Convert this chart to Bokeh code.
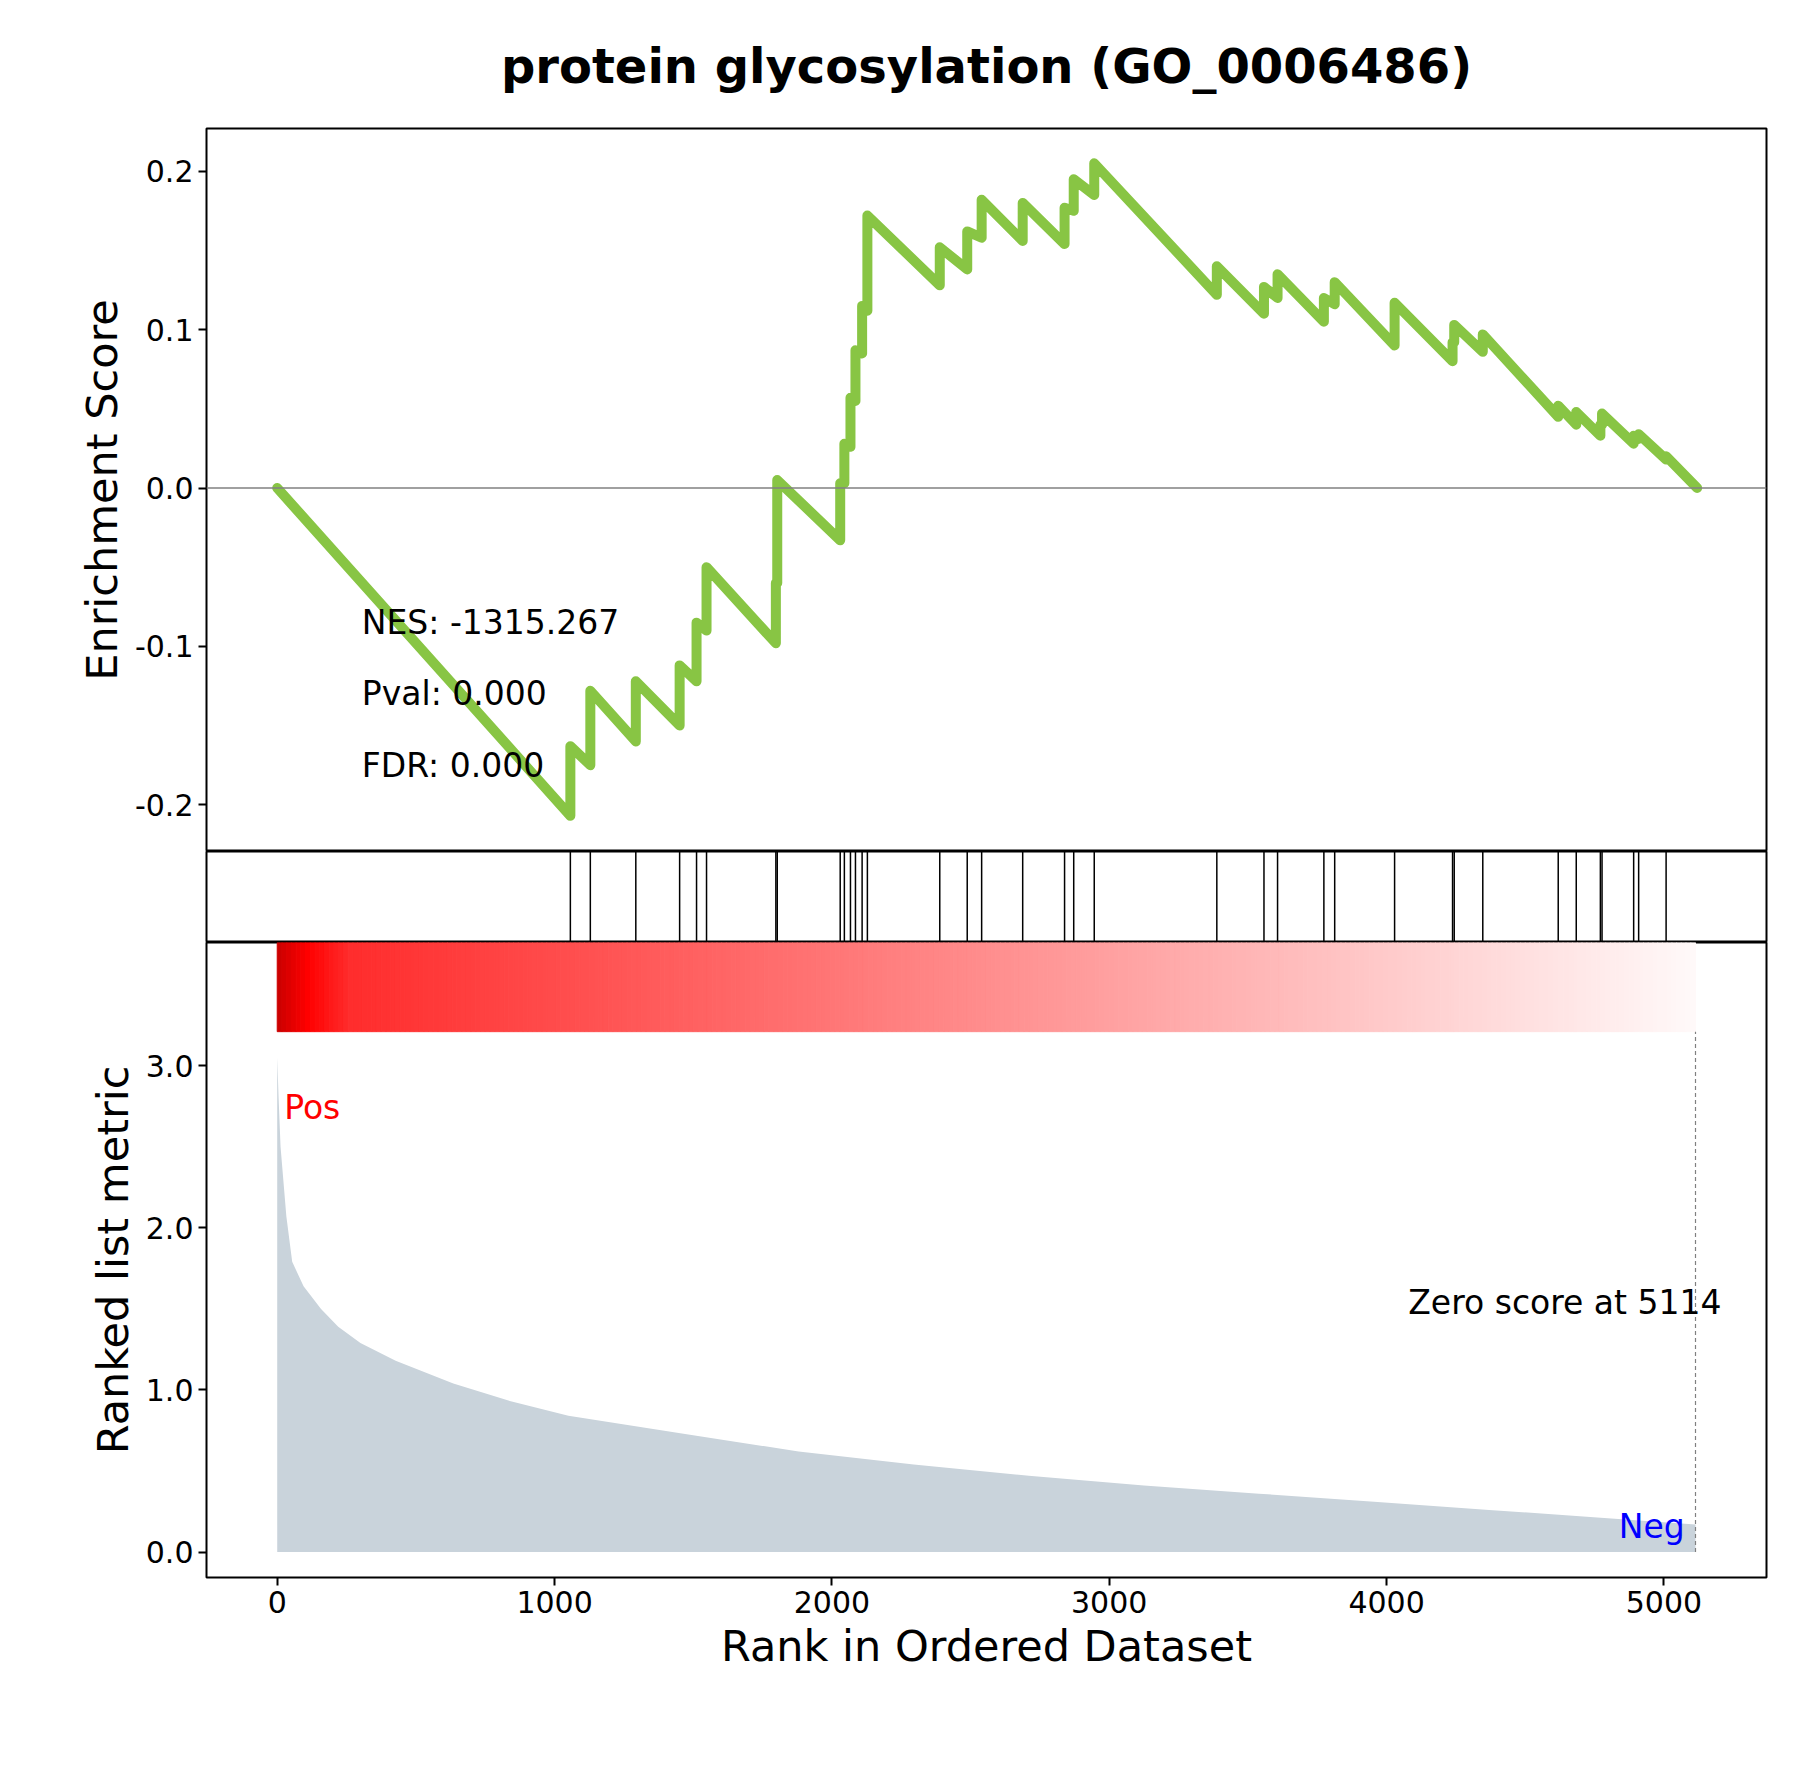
from bokeh.plotting import figure
from bokeh.layouts import column
from bokeh.models import Range1d, FixedTicker, Span, Label, Title
from bokeh.embed import file_html
from bokeh.resources import INLINE

# hits in the ranked list and running enrichment score around each hit
hit_rank = [1057, 1129, 1293, 1451, 1512, 1548, 1798, 1803, 2030, 2045, 2067, 2085, 2109, 2128,
            2389, 2488, 2540, 2688, 2839, 2872, 2946, 3388, 3558, 3607, 3774, 3813, 4029,
            4238, 4244, 4347, 4619, 4684, 4771, 4777, 4891, 4909, 5008]
es_before = [-0.207, -0.175, -0.160, -0.150, -0.122, -0.090, -0.098, -0.060, -0.033, 0.003, 0.026, 0.055,
             0.085, 0.112, 0.128, 0.138, 0.158, 0.156, 0.154, 0.175, 0.185, 0.122, 0.110, 0.120,
             0.105, 0.116, 0.090, 0.080, 0.092, 0.086, 0.045, 0.040, 0.033, 0.040, 0.028, 0.031, 0.018]
es_after = [-0.163, -0.128, -0.122, -0.112, -0.085, -0.050, -0.060, 0.005, 0.003, 0.028, 0.057, 0.087,
            0.115, 0.172, 0.152, 0.162, 0.182, 0.180, 0.177, 0.195, 0.205, 0.140, 0.127, 0.135,
            0.120, 0.130, 0.117, 0.092, 0.103, 0.097, 0.052, 0.048, 0.040, 0.047, 0.033, 0.034, 0.020]
n_genes = 5120
zero_rank = 5114

# ranked list metric
metric_rank = [0, 5, 12, 33, 54, 95, 158, 220, 300, 427, 635, 842, 1050, 1465, 1880, 2295,
               2710, 3125, 3540, 3955, 4370, 4785, 5114]
metric_val = [3.05, 2.8, 2.5, 2.07, 1.79, 1.64, 1.5, 1.39, 1.29, 1.18, 1.04, 0.93, 0.84, 0.73,
              0.62, 0.54, 0.47, 0.41, 0.36, 0.31, 0.26, 0.21, 0.17]

stats = ["NES: -1315.267", "Pval: 0.000", "FDR: 0.000"]

FONT = "DejaVu Sans"
XR = (-255, 5370)
FW = 1560
LEFT = 206


def style(p):
    p.outline_line_color = "black"
    p.outline_line_width = 2
    p.xgrid.visible = False
    p.ygrid.visible = False
    for ax in p.axis:
        ax.major_label_text_font = FONT
        ax.major_label_text_font_size = "30px"
        ax.major_label_text_color = "black"
        ax.axis_label_text_font = FONT
        ax.axis_label_text_font_size = "43px"
        ax.axis_label_text_font_style = "normal"
        ax.axis_label_text_color = "black"
        ax.major_tick_line_width = 2
        ax.major_tick_out = 8
        ax.major_tick_in = 0
        ax.minor_tick_line_color = None
        ax.axis_line_color = None


# top panel: running enrichment score
p1 = figure(frame_width=FW, frame_height=723, x_range=Range1d(*XR), y_range=Range1d(-0.2295, 0.227),
            output_backend="svg", toolbar_location=None, min_border_left=LEFT, min_border_right=25,
            min_border_top=60, min_border_bottom=0)
p1.add_layout(Title(text="protein glycosylation (GO_0006486)", text_font=FONT, text_font_size="48px",
                    text_font_style="bold", text_color="black", align="center", standoff=70), "above")
style(p1)
p1.xaxis.visible = False
p1.yaxis.axis_label = "Enrichment Score"
p1.yaxis.ticker = FixedTicker(ticks=[-0.2, -0.1, 0.0, 0.1, 0.2])
p1.yaxis.major_label_overrides = {-0.2: "-0.2", -0.1: "-0.1", 0: "0.0", 0.1: "0.1", 0.2: "0.2"}
p1.add_layout(Span(location=0, dimension="width", line_color="grey", line_width=1.5))
xs, ys = [0], [0.0]
for r, b, a in zip(hit_rank, es_before, es_after):
    xs += [r, r]
    ys += [b, a]
xs.append(n_genes)
ys.append(0.0)
p1.line(xs, ys, line_color="#88C544", line_width=10, line_join="round", line_cap="round")
for i, s in enumerate(stats):
    p1.add_layout(Label(x=305, y=-0.085 - 0.045 * i, text=s, text_font=FONT, text_font_size="33px",
                        text_color="black", text_baseline="middle"))

# middle panel: hit positions
p2 = figure(frame_width=FW, frame_height=91, x_range=p1.x_range, y_range=Range1d(0, 1),
            output_backend="svg", toolbar_location=None, min_border_left=LEFT, min_border_right=25,
            min_border_top=0, min_border_bottom=0)
style(p2)
p2.xaxis.visible = False
p2.yaxis.visible = False
p2.segment(x0=hit_rank, y0=0, x1=hit_rank, y1=1, line_color="black", line_width=1.5)

# bottom panel: ranked list metric
p3 = figure(frame_width=FW, frame_height=635, x_range=p1.x_range, y_range=Range1d(-0.157, 3.76),
            output_backend="svg", toolbar_location=None, min_border_left=LEFT, min_border_right=25,
            min_border_top=0, min_border_bottom=30)
style(p3)
p3.xaxis.axis_label = "Rank in Ordered Dataset"
p3.yaxis.axis_label = "Ranked list metric"
p3.xaxis.ticker = FixedTicker(ticks=[0, 1000, 2000, 3000, 4000, 5000])
p3.yaxis.ticker = FixedTicker(ticks=[0, 1, 2, 3])
p3.yaxis.major_label_overrides = {0: "0.0", 1: "1.0", 2: "2.0", 3: "3.0"}
p3.varea(x=metric_rank, y1=0, y2=metric_val, fill_color="#C9D3DB")

# colour strip above the metric
nseg = 300
left_edges, right_edges, colors = [], [], []
for i in range(nseg):
    f = i / nseg
    if f < 0.02:
        c = (int(205 + 50 * f / 0.02), 0, 0)
    elif f < 0.05:
        g = int(45 * (f - 0.02) / 0.03)
        c = (255, g, g)
    else:
        g = int(45 + 205 * (f - 0.05) / 0.95)
        c = (255, g, g)
    left_edges.append(zero_rank * i / nseg)
    right_edges.append(zero_rank * (i + 1) / nseg)
    colors.append("#%02x%02x%02x" % c)
p3.quad(left=left_edges, right=right_edges, bottom=3.21, top=3.76, fill_color=colors,
        line_color=colors, line_width=1)

p3.segment(x0=[zero_rank], y0=[0], x1=[zero_rank], y1=[3.21], line_color="grey", line_dash="4 3",
           line_width=1.2)
p3.add_layout(Label(x=4643, y=1.54, text="Zero score at %d" % zero_rank, text_font=FONT,
                    text_font_size="33px", text_color="black", text_align="center",
                    text_baseline="middle"))
p3.add_layout(Label(x=25, y=2.74, text="Pos", text_font=FONT, text_font_size="33px",
                    text_color="red", text_baseline="middle"))
p3.add_layout(Label(x=5075, y=0.16, text="Neg", text_font=FONT, text_font_size="33px",
                    text_color="blue", text_align="right", text_baseline="middle"))

layout = column(p1, p2, p3, spacing=0)
open("out.html", "w").write(file_html(layout, INLINE))
